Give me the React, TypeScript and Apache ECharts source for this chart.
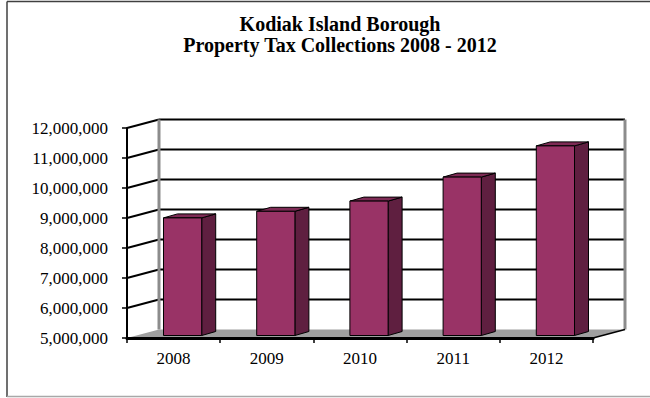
import React, { useEffect, useRef } from "react";
import * as echarts from "echarts";

const years = ["2008", "2009", "2010", "2011", "2012"];
const collections = [8920000, 9140000, 9480000, 10280000, 11320000];
const yMin = 5000000;
const yMax = 12000000;
const yStep = 1000000;
const titleLines = ["Kodiak Island Borough", "Property Tax Collections 2008 - 2012"];

// 3D styling
const WALL_DX = 32;
const WALL_DY = -8.5;
const OX = 9;
const OY = -2.5;
const BX = 14;
const BY = -4;
const FRONT = "#993366";
const SIDE = "#5f1f40";
const TOP = "#7e2b55";
const FONT = "'Liberation Serif', 'DejaVu Serif', serif";

export default function App() {
  const ref = useRef<HTMLDivElement>(null);
  useEffect(() => {
    if (!ref.current) return;
    const chart = echarts.init(ref.current, undefined, { renderer: "svg" });
    const gridVals: number[] = [];
    for (let v = yMin + yStep; v <= yMax; v += yStep) gridVals.push(v);

    chart.setOption({
      animation: false,
      backgroundColor: "#ffffff",
      grid: { left: 127, right: 57, top: 128, bottom: 60, containLabel: false },
      xAxis: {
        type: "category",
        data: years,
        z: 10,
        axisLine: { show: true, lineStyle: { color: "#000", width: 3 } },
        axisTick: { show: true, length: 5, lineStyle: { color: "#000", width: 1.5 } },
        axisLabel: { color: "#000", fontSize: 17, fontFamily: FONT, margin: 12 },
        splitLine: { show: false },
      },
      yAxis: {
        type: "value",
        min: yMin,
        max: yMax,
        interval: yStep,
        z: 10,
        axisLine: { show: true, lineStyle: { color: "#000", width: 2 } },
        axisTick: { show: true, length: 5, lineStyle: { color: "#000", width: 1.5 } },
        axisLabel: {
          color: "#000",
          fontSize: 17,
          fontFamily: FONT,
          margin: 19,
          formatter: (v: number) => v.toLocaleString("en-US"),
        },
        splitLine: { show: false },
      },
      graphic: [
        {
          type: "text",
          x: 340,
          y: 34.5,
          style: {
            text: titleLines.join("\n"),
            font: `bold 20px ${FONT}`,
            fill: "#000",
            align: "center",
            verticalAlign: "middle",
            lineHeight: 21,
          },
        },
        { type: "line", shape: { x1: 7, y1: 1.5, x2: 650, y2: 1.5 }, style: { stroke: "#404040", lineWidth: 1.5 } },
        { type: "line", shape: { x1: 7, y1: 1.5, x2: 7, y2: 397 }, style: { stroke: "#404040", lineWidth: 1.5 } },
        { type: "line", shape: { x1: 7, y1: 396.5, x2: 650, y2: 396.5 }, style: { stroke: "#a8a8a8", lineWidth: 1.5 } },
      ],
      series: [
        {
          type: "custom",
          z: 1,
          clip: false,
          silent: true,
          data: [[0, yMin]],
          encode: { x: 0, y: 1 },
          renderItem: (params: any, api: any) => {
            const cs = params.coordSys;
            const xs = cs.x;
            const xe = cs.x + cs.width;
            const y0 = api.coord([0, yMin])[1];
            const yTopV = api.coord([0, yMax])[1];
            const children: any[] = [];
            children.push({
              type: "polygon",
              shape: {
                points: [
                  [xs, y0],
                  [xe, y0],
                  [xe + WALL_DX, y0 + WALL_DY],
                  [xs + WALL_DX, y0 + WALL_DY],
                ],
              },
              style: { fill: "#a0a0a0" },
            });
            gridVals.forEach((v) => {
              const y = api.coord([0, v])[1];
              children.push({
                type: "line",
                shape: { x1: xs + WALL_DX, y1: y + WALL_DY, x2: xe + WALL_DX, y2: y + WALL_DY },
                style: { stroke: "#000", lineWidth: 2 },
              });
              children.push({
                type: "line",
                shape: { x1: xs, y1: y, x2: xs + WALL_DX, y2: y + WALL_DY },
                style: { stroke: "#000", lineWidth: 2 },
              });
            });
            children.push({
              type: "line",
              shape: { x1: xs + WALL_DX, y1: yTopV + WALL_DY, x2: xs + WALL_DX, y2: y0 + WALL_DY },
              style: { stroke: "#8c8c8c", lineWidth: 3 },
            });
            children.push({
              type: "line",
              shape: { x1: xe + WALL_DX, y1: yTopV + WALL_DY, x2: xe + WALL_DX, y2: y0 + WALL_DY },
              style: { stroke: "#8c8c8c", lineWidth: 3 },
            });
            children.push({
              type: "line",
              shape: { x1: xe, y1: y0, x2: xe + WALL_DX, y2: y0 + WALL_DY },
              style: { stroke: "#000", lineWidth: 1.5 },
            });
            return { type: "group", children };
          },
        },
        {
          type: "custom",
          z: 3,
          clip: false,
          data: years.map((_, i) => [i, collections[i]]),
          encode: { x: 0, y: 1 },
          renderItem: (params: any, api: any) => {
            const i = api.value(0);
            const v = api.value(1);
            const top = api.coord([i, v]);
            const base = api.coord([i, yMin]);
            const band = api.size([1, 0])[0];
            const w = band * 0.41;
            const L = top[0] - w / 2 + OX;
            const R = top[0] + w / 2 + OX;
            const T = top[1] + OY;
            const B = base[1] + OY;
            return {
              type: "group",
              children: [
                {
                  type: "polygon",
                  shape: { points: [[R, T], [R + BX, T + BY], [R + BX, B + BY], [R, B]] },
                  style: { fill: SIDE, stroke: "#000", lineWidth: 1 },
                },
                {
                  type: "polygon",
                  shape: { points: [[L, T], [L + BX, T + BY], [R + BX, T + BY], [R, T]] },
                  style: { fill: TOP, stroke: "#000", lineWidth: 1 },
                },
                {
                  type: "rect",
                  shape: { x: L, y: T, width: w, height: B - T },
                  style: { fill: FRONT, stroke: "#000", lineWidth: 1 },
                },
              ],
            };
          },
        },
      ],
    });
    return () => chart.dispose();
  }, []);
  return (
    <div
      ref={ref}
      style={{ position: "absolute", left: 0, top: 0, width: 650, height: 398 }}
    />
  );
}
